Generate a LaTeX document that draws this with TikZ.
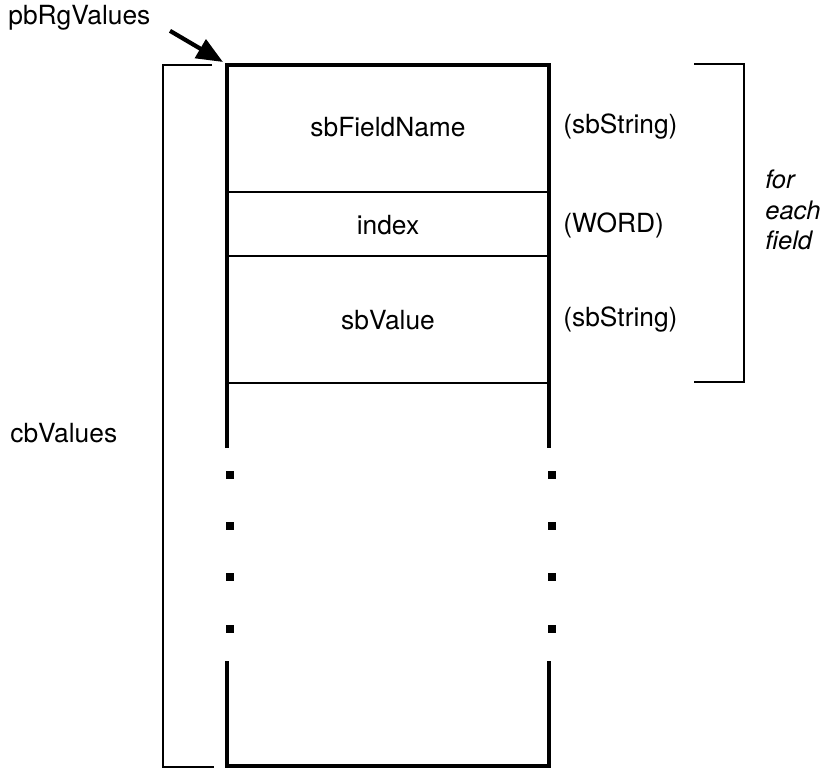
\documentclass[tikz,border=0pt]{standalone}
\usepackage{fontspec}
\setmainfont{TeX Gyre Heros}
\usetikzlibrary{arrows.meta,positioning}

\begin{document}
\begin{tikzpicture}[x=0.02cm, y=-0.02cm, black, text=black,
       every node/.style={font=\fontsize{15}{18}\selectfont},
       boxline/.style={line width=2.6pt, line join=miter},
       divider/.style={line width=1.4pt},
       bracket/.style={line width=1.5pt, line join=miter},
       pointer/.style={-{Triangle[length=15pt,width=12pt]}, line width=2.4pt},
       field/.style={inner sep=0pt},
       typename/.style={anchor=west, inner sep=0pt},
       dotmark/.style={rectangle, fill, minimum size=4.3pt, inner sep=0pt}]
	\useasboundingbox (0,0) rectangle (832,771);

	%% Pointer to the values
	\node [anchor=west, inner sep=0pt] (rgvalues) at (8,18) {pbRgValues};
	\coordinate (corner) at (223,62);
	\draw[pointer] (rgvalues.south east) ++(11pt,0pt) coordinate (tail) -- (corner);

	%% Record box
	\draw[boxline] (227,448) -- (227,65) -- (549,65) -- (549,448);
	\draw[boxline] (227,661) -- (227,766) -- (549,766) -- (549,661);
	\draw[divider] (227,192) -- (549,192);
	\draw[divider] (227,256) -- (549,256);
	\draw[divider] (227,383) -- (549,383);
	\foreach \y in {475,526,577,629} {
		\node[dotmark] at (230,\y) {};
		\node[dotmark] at (552,\y) {};
	}

	%% Fields
	\node [field] (fieldname) at (388,127) {sbFieldName};
	\node [field] (index) at (388,225) {index};
	\node [field] (value) at (388,320) {sbValue};

	%% Types
	\node [typename] (tname) at (563,127) {(sbString)};
	\node [typename] (tindex) at (563,225) {(WORD)};
	\node [typename] (tvalue) at (563,320) {(sbString)};

	%% Brackets
	\draw[bracket] (694,64) -- (744,64) -- (744,382) -- (694,382);
	\node [anchor=west, align=left, inner sep=0pt, font=\fontsize{14.5}{17.5}\selectfont\itshape] (each) at (765,210) {for\\each\\field};
	\draw[bracket] (212,65) -- (163,65) -- (163,767) -- (214,767);
	\node [anchor=west, inner sep=0pt] (cbvalues) at (10,433) {cbValues};
\end{tikzpicture}
\end{document}
